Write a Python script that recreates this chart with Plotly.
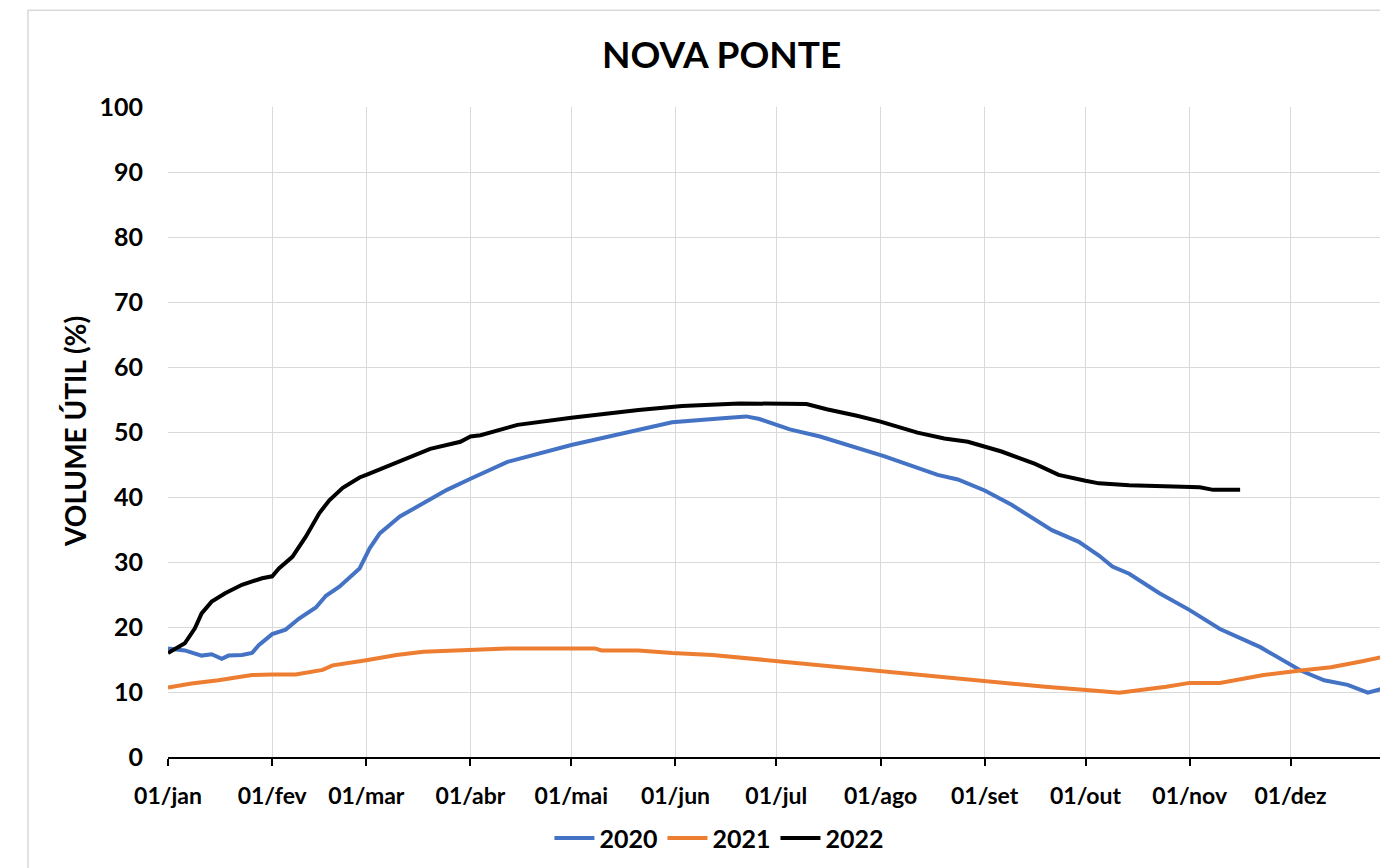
import plotly.graph_objects as go

# ---- data (day of year, 0 = 01/jan) ----
meses_dias = [0, 31, 59, 90, 120, 151, 181, 212, 243, 273, 304, 334]
meses_rotulos = ["01/jan", "01/fev", "01/mar", "01/abr", "01/mai", "01/jun",
                 "01/jul", "01/ago", "01/set", "01/out", "01/nov", "01/dez"]

dias_2020 = [0, 5, 10, 13, 16, 18, 22, 25, 27, 31, 35, 39, 44, 47, 51, 57, 60, 63, 69, 75,
             83, 90, 101, 120, 140, 150, 165, 172, 176, 185, 194, 206, 213, 229, 235, 243,
             251, 263, 271, 277, 281, 286, 295, 304, 313, 325, 337, 344, 351, 357, 363, 365]
vol_2020 = [16.7, 16.4, 15.6, 15.8, 15.1, 15.6, 15.7, 16.0, 17.2, 18.9, 19.6, 21.3, 23.0, 24.8,
            26.2, 29.0, 32.1, 34.4, 37.0, 38.7, 41.1, 42.8, 45.4, 48.0, 50.3, 51.5, 52.1, 52.4,
            52.0, 50.4, 49.3, 47.5, 46.3, 43.4, 42.7, 41.0, 38.8, 34.9, 33.1, 31.0, 29.3, 28.2,
            25.2, 22.6, 19.7, 16.9, 13.3, 11.8, 11.1, 9.9, 10.7, 11.0]

dias_2021 = [0, 7, 15, 25, 31, 38, 46, 49, 59, 68, 76, 89, 101, 127, 129, 140, 150, 162, 172,
             182, 194, 212, 228, 245, 261, 276, 283, 297, 304, 313, 326, 337, 346, 355, 363, 365]
vol_2021 = [10.7, 11.3, 11.8, 12.6, 12.7, 12.7, 13.4, 14.1, 14.9, 15.7, 16.2, 16.4, 16.7, 16.7,
            16.4, 16.4, 16.0, 15.7, 15.2, 14.8, 14.1, 13.3, 12.5, 11.6, 10.8, 10.2, 9.9, 10.8,
            11.4, 11.4, 12.6, 13.3, 13.8, 14.7, 15.6, 15.8]

dias_2022 = [0, 5, 8, 10, 13, 17, 22, 28, 31, 33, 37, 41, 45, 48, 52, 57, 59, 68, 78, 87, 90,
             93, 104, 120, 140, 153, 170, 190, 196, 205, 212, 223, 231, 238, 248, 258, 265, 273,
             277, 286, 292, 301, 307, 311, 319]
vol_2022 = [16.0, 17.5, 19.8, 22.1, 23.9, 25.2, 26.5, 27.5, 27.8, 29.0, 30.8, 33.9, 37.5, 39.5,
            41.4, 43.0, 43.4, 45.3, 47.4, 48.5, 49.3, 49.5, 51.1, 52.2, 53.4, 54.0, 54.4, 54.3,
            53.5, 52.5, 51.6, 49.9, 49.0, 48.5, 47.0, 45.1, 43.4, 42.5, 42.1, 41.8, 41.7, 41.7,
            41.5, 41.1, 41.1]

series = [("2020", dias_2020, vol_2020, "#4472C4"),
          ("2021", dias_2021, vol_2021, "#ED7D31"),
          ("2022", dias_2022, vol_2022, "#000000")]

FONT = "Lato"

fig = go.Figure()
for nome, d, v, cor in series:
    fig.add_trace(go.Scatter(x=d, y=v, mode="lines", name=nome,
                             line=dict(color=cor, width=4)))

# page body adds an 8px offset: figure is sized/margined to compensate
fig.update_layout(
    width=1380, height=860,
    margin=dict(l=160, r=0, t=99, b=111),
    paper_bgcolor="white", plot_bgcolor="white",
    showlegend=True,
    legend=dict(orientation="h", x=0.452, xanchor="center", y=-0.125, yanchor="middle",
                font=dict(family=FONT, size=25, color="black", weight="bold"),
                itemwidth=40, tracegroupgap=0),
    font=dict(family=FONT, color="black"),
)

fig.update_xaxes(
    range=[0, 363], tickmode="array", tickvals=meses_dias, ticktext=meses_rotulos,
    showgrid=True, gridcolor="#D9D9D9", gridwidth=1,
    showline=True, linecolor="black", linewidth=1.5,
    ticks="outside", ticklen=7, tickcolor="black", tickwidth=1.5,
    tickfont=dict(family=FONT, size=23, color="black", weight="bold"),
    ticklabelstandoff=11, zeroline=False,
)
fig.update_yaxes(
    range=[0, 100], tick0=0, dtick=10,
    showgrid=True, gridcolor="#D9D9D9", gridwidth=1,
    showline=False, zeroline=False, ticks="",
    tickfont=dict(family=FONT, size=25, color="black", weight="bold"),
    ticklabelstandoff=24,
)

# outer chart border
fig.add_shape(type="rect", xref="paper", yref="paper",
              x0=-0.1148, x1=1.2, y0=-0.3, y1=1.149,
              line=dict(color="#D9D9D9", width=1.5), fillcolor="rgba(0,0,0,0)", layer="below")

fig.add_annotation(text="<b>NOVA PONTE</b>", xref="paper", yref="paper",
                   x=0.454, y=1.083, xanchor="center", yanchor="middle", showarrow=False,
                   font=dict(family=FONT, size=37, color="black"))
fig.add_annotation(text="<b>VOLUME ÚTIL (%)</b>", xref="paper", yref="paper",
                   x=-0.0762, y=0.5, xanchor="center", yanchor="middle", showarrow=False,
                   textangle=-90, font=dict(family=FONT, size=28, color="black"))

fig.write_html("out.html")
